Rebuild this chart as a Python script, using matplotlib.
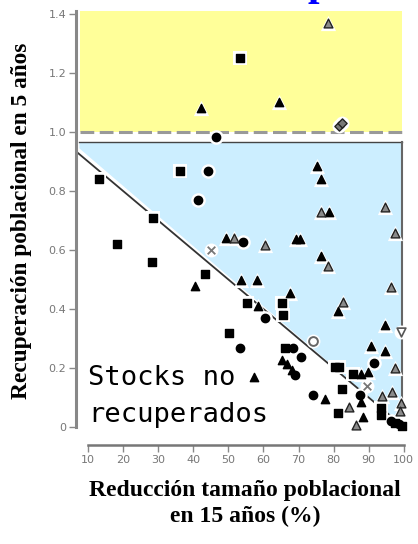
import matplotlib
matplotlib.use("Agg")
import matplotlib.pyplot as plt
import numpy as np

# reduccion (%) / recuperacion, one pair of lists per marker type
sq_x = [53.3, 36.2, 13.1, 28.5, 18.3, 28.2, 43.3, 50.3, 55.3, 65.3, 65.6, 66.1, 80.4, 81.5,
        85.5, 82.4, 81.3, 93.5, 93.5, 97.5, 99.5]
sq_y = [1.251, 0.868, 0.84, 0.708, 0.62, 0.56, 0.52, 0.32, 0.42, 0.42, 0.38, 0.268, 0.203, 0.203,
        0.18, 0.129, 0.047, 0.04, 0.065, 0.015, 0.005]

ci_x = [46.5, 44.2, 41.3, 54.2, 53.2, 60.4, 68.4, 70.7, 91.5, 87.5, 74.1, 96.3, 98.5, 69.0]
ci_y = [0.982, 0.868, 0.769, 0.627, 0.268, 0.37, 0.268, 0.237, 0.218, 0.108, 0.108, 0.02, 0.01, 0.176]

tr_x = [42.2, 64.4, 75.2, 76.4, 78.7, 49.3, 69.2, 70.4, 76.4, 40.5, 53.6, 58.1, 67.5, 58.4,
        81.3, 94.6, 90.6, 94.6, 65.3, 66.7, 68.1, 57.3, 87.8, 89.8, 87.8, 77.5, 88.3]
tr_y = [1.081, 1.10, 0.885, 0.84, 0.729, 0.64, 0.637, 0.637, 0.58, 0.478, 0.497, 0.498, 0.454, 0.41,
        0.393, 0.345, 0.275, 0.258, 0.227, 0.213, 0.193, 0.169, 0.18, 0.187, 0.085, 0.095, 0.034]

gt_x = [78.4, 76.4, 94.6, 97.5, 51.5, 60.4, 78.4, 96.3, 82.6, 97.5, 93.8, 96.6, 84.4, 86.4, 99.2, 99.0]
gt_y = [1.369, 0.729, 0.746, 0.658, 0.64, 0.617, 0.546, 0.476, 0.424, 0.2, 0.105, 0.119, 0.068, 0.007,
        0.08, 0.055]

cx_x = [45.0, 89.5]
cx_y = [0.60, 0.139]
oc_x = [74.1]
oc_y = [0.29]
it_x = [99.2]
it_y = [0.323]
gd_x = [81.5, 82.5]
gd_y = [1.02, 1.03]

xticks = [10, 20, 30, 40, 50, 60, 70, 80, 90, 100]
yticks = [0, 0.2, 0.4, 0.6, 0.8, 1.0, 1.2, 1.4]
ytick_labels = ["0", "0.2", "0.4", "0.6", "0.8", "1.0", "1.2", "1.4"]

fig = plt.figure(figsize=(4.18, 5.44), dpi=100)
ax = fig.add_axes([76 / 418, 1 - 445 / 544, 332 / 418, 434 / 544])
ax.set_xlim(6.58, 101.2)
ax.set_ylim(-0.061, 1.41)

# shaded zones
ax.fill_between([7.7, 99.5], 1.0, 1.41, color="#ffff99", lw=0, zorder=0)
xb = np.array([7.4, 99.5])
ax.fill_between(xb, 0.946 - 0.0102 * (xb - 7.4), 0.966, color="#cceeff", lw=0, zorder=0)
ax.plot([7.4, 99.5], [0.966, 0.966], color="#444444", lw=1, zorder=1)
ax.plot([99.5, 99.5], [0.966, 0.05], color="#666666", lw=1.5, zorder=1)
ax.plot([7.6, 99.5], [1.0, 1.0], color="#999999", lw=2.2, dashes=(4.5, 1.8), zorder=1)
ax.plot([4.5, 100], [0.955, 0.0], color="#333333", lw=1.3, zorder=2)

# halos
halo = dict(color="white", zorder=3, linewidths=0)
ax.scatter(sq_x, sq_y, marker="s", s=100, **halo)
ax.scatter(ci_x, ci_y, marker="o", s=110, **halo)
ax.scatter(tr_x + gt_x, tr_y + gt_y, marker="^", s=120, **halo)
ax.scatter(cx_x + oc_x + it_x + gd_x, cx_y + oc_y + it_y + gd_y, marker="o", s=100, **halo)

ax.scatter(sq_x, sq_y, marker="s", s=28, color="black", zorder=4)
ax.scatter(ci_x, ci_y, marker="o", s=36, color="black", zorder=4)
ax.scatter(tr_x, tr_y, marker="^", s=36, color="black", zorder=4)
ax.scatter(gt_x, gt_y, marker="^", s=40, facecolor="#8a8a8a", edgecolor="#222222", linewidths=1, zorder=4)
ax.scatter(cx_x, cx_y, marker="x", s=30, color="#777777", linewidths=1.3, zorder=4)
ax.scatter(oc_x, oc_y, marker="o", s=40, facecolor="white", edgecolor="#666666", linewidths=1.4, zorder=4)
ax.scatter(it_x, it_y, marker="v", s=40, facecolor="white", edgecolor="#555555", linewidths=1.2, zorder=4)
ax.scatter(gd_x, gd_y, marker="D", s=22, facecolor="#777777", edgecolor="#222222", linewidths=1, zorder=4)

ax.text(10, 0.142, "Stocks no", family="DejaVu Sans Mono", fontsize=19.5, va="baseline", zorder=5)
ax.text(10, 0.017, "recuperados", family="DejaVu Sans Mono", fontsize=19.5, va="baseline", zorder=5)

# axes
for s in ["top", "right"]:
    ax.spines[s].set_visible(False)
ax.spines["left"].set_bounds(0, 1.41)
ax.spines["left"].set_color("#888888")
ax.spines["left"].set_linewidth(2.2)
ax.spines["bottom"].set_bounds(10, 100)
ax.spines["bottom"].set_color("#777777")
ax.spines["bottom"].set_linewidth(1.8)
ax.set_xticks(xticks)
ax.set_xticklabels([str(t) for t in xticks])
ax.set_yticks(yticks)
ax.set_yticklabels(ytick_labels)
ax.tick_params(axis="both", colors="#888888", labelcolor="#777777", labelsize=8, width=1, length=5, pad=2)
ax.patch.set_visible(False)

fig.text(245 / 418, 1 - 504 / 544, "Reducción tamaño poblacional\nen 15 años (%)", ha="center", va="center",
         family="Liberation Serif", fontweight="bold", fontsize=17, linespacing=1.3)
fig.text(22 / 418, 1 - 221 / 544, "Recuperación poblacional en 5 años", rotation=90, ha="center", va="center",
         family="Liberation Serif", fontweight="bold", fontsize=16.8)
fig.text(308 / 418, 1 + 5 / 544, "p", color="blue", ha="left", va="baseline",
         family="Liberation Serif", fontweight="bold", fontsize=30)

fig.savefig("out.png", dpi=100)
